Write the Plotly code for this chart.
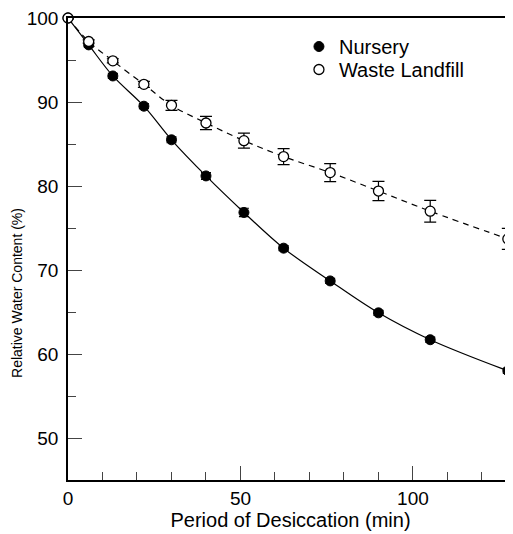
import plotly.graph_objects as go

time_min = [0, 6, 13, 22, 30, 40, 51, 62.5, 76, 90, 105, 127.5]
nursery = [100, 96.8, 93.1, 89.5, 85.5, 81.2, 76.85, 72.6, 68.7, 64.9, 61.7, 58.0]
nursery_err = [0.1, 0.25, 0.3, 0.3, 0.35, 0.4, 0.5, 0.3, 0.3, 0.3, 0.3, 0.3]
landfill = [100, 97.2, 94.9, 92.1, 89.6, 87.5, 85.4, 83.5, 81.6, 79.4, 77.0, 73.7]
landfill_err = [0.1, 0.2, 0.25, 0.35, 0.6, 0.8, 0.9, 0.95, 1.07, 1.15, 1.3, 1.25]

x_ticks = [0, 50, 100]
y_ticks = [50, 60, 70, 80, 90, 100]
x_title = "Period of Desiccation (min)"
y_title = "Relative Water Content (%)"

fig = go.Figure()

fig.add_trace(go.Scatter(x=time_min, y=nursery, mode="lines", line=dict(color="black", width=1.2, shape="spline"),
                         showlegend=False, hoverinfo="skip"))
fig.add_trace(go.Scatter(x=time_min, y=landfill, mode="lines",
                         line=dict(color="black", width=1.2, shape="spline", dash="6px,5px"),
                         showlegend=False, hoverinfo="skip"))
fig.add_trace(go.Scatter(x=time_min, y=nursery, mode="markers", name="Nursery", legend="legend",
                         marker=dict(symbol="circle", size=10, color="black", line=dict(color="black", width=1)),
                         error_y=dict(type="data", array=nursery_err, color="black", thickness=1.2, width=5),
                         cliponaxis=False))
fig.add_trace(go.Scatter(x=time_min, y=landfill, mode="markers", name="Waste Landfill", legend="legend2",
                         marker=dict(symbol="circle", size=10, color="white", line=dict(color="black", width=1.3)),
                         error_y=dict(type="data", array=landfill_err, color="black", thickness=1.2, width=6),
                         cliponaxis=False))

legend_style = dict(xanchor="left", yanchor="top", bgcolor="rgba(0,0,0,0)", font=dict(size=20), itemwidth=30)

fig.update_layout(
    width=513, height=534,
    margin=dict(l=60, r=8, t=10, b=62, autoexpand=False),
    paper_bgcolor="white", plot_bgcolor="white",
    font=dict(family="Liberation Sans, Arial, sans-serif", color="black", size=19),
    showlegend=True,
    legend=dict(x=0.519, y=0.9805, **legend_style),
    legend2=dict(x=0.519, y=0.9307, **legend_style),
    xaxis=dict(range=[0, 129], tickvals=x_ticks, ticks="inside", ticklen=14, tickwidth=1.3,
               showline=True, linecolor="black", linewidth=1.5, mirror=True, showgrid=False, zeroline=False,
               automargin=False, ticklabeloverflow="allow",
               minor=dict(ticks="inside", ticklen=8, tickwidth=1.3, dtick=10, tick0=0, showgrid=False),
               title=dict(text=x_title, font=dict(size=20), standoff=2),
               ticklabelstandoff=0),
    yaxis=dict(range=[45, 100], tickvals=y_ticks, ticks="inside", ticklen=14, tickwidth=1.3,
               showline=True, linecolor="black", linewidth=1.5, showgrid=False, zeroline=False,
               automargin=False, ticklabeloverflow="allow",
               minor=dict(ticks="inside", ticklen=8, tickwidth=1.3, dtick=5, tick0=45, showgrid=False),
               ticklabelstandoff=4),
    annotations=[dict(text=y_title, textangle=-90, xref="paper", yref="paper", x=-0.1135, y=0.406,
                      xanchor="center", yanchor="middle", showarrow=False, font=dict(size=14))],
)

fig.write_html("out.html")
